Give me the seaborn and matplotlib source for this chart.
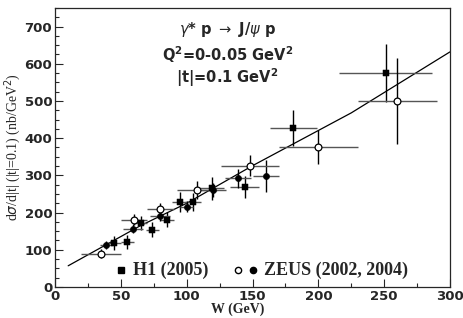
import numpy as np
import pandas as pd
import seaborn as sns
import matplotlib.pyplot as plt
from matplotlib.ticker import MultipleLocator

# H1 (2005), filled squares
h1_w = [45, 55, 65, 74, 85, 95, 105, 119, 144, 181, 251]
h1_sig = [118, 121, 172, 154, 181, 228, 228, 265, 269, 428, 575]
h1_werr = [5, 5, 5, 5, 5, 6, 6, 9.5, 11, 18, 35]
h1_err = [18, 18, 20, 20, 20, 27, 25, 31, 30, 48, 78]

# ZEUS filled circles
zf_w = [39, 59.5, 80, 100, 120, 139, 160]
zf_sig = [113, 156, 192, 216, 261, 292, 297]
zf_werr = [5, 7.5, 7.5, 5, 10, 10, 10]
zf_err = [10, 12, 14, 15, 18, 25, 43]

# ZEUS open circles
zo_w = [35, 60, 80, 108, 148, 200, 260]
zo_sig = [90, 181, 210, 261, 326, 376, 500]
zo_werr = [15, 10, 10, 15, 22, 30, 30]
zo_err = [12, 15, 15, 25, 28, 45, 115]

# fitted curve
fit_w = [10, 65, 100, 150, 225, 300]
fit_sig = [57, 165, 225, 326, 468, 632]

sns.set_style("ticks")
plt.rcParams['font.family'] = ['DejaVu Sans']

fig = plt.figure(figsize=(4.63, 3.18), dpi=100)
ax = fig.add_axes([0.1188, 0.0975, 0.8532, 0.8775])

fit = pd.DataFrame({'W': fit_w, 'sig': fit_sig})
sns.lineplot(data=fit, x='W', y='sig', ax=ax, color='black', lw=0.9)

for w, s, we, se in [(h1_w, h1_sig, h1_werr, h1_err),
                     (zf_w, zf_sig, zf_werr, zf_err),
                     (zo_w, zo_sig, zo_werr, zo_err)]:
    ax.errorbar(w, s, xerr=we, fmt='none', ecolor='#555555', elinewidth=1.0, capsize=0)
    ax.errorbar(w, s, yerr=se, fmt='none', ecolor='black', elinewidth=1.0, capsize=0)

sns.scatterplot(x=h1_w, y=h1_sig, ax=ax, marker='s', s=20, color='black', edgecolor='black', zorder=5)
sns.scatterplot(x=zf_w, y=zf_sig, ax=ax, marker='o', s=20, color='black', edgecolor='black', zorder=5)
sns.scatterplot(x=zo_w, y=zo_sig, ax=ax, marker='o', s=24, color='white', edgecolor='black', linewidth=0.9, zorder=5)

ax.set_xlim(0, 300)
ax.set_ylim(0, 750)
ax.xaxis.set_major_locator(MultipleLocator(50))
ax.xaxis.set_minor_locator(MultipleLocator(25))
ax.yaxis.set_major_locator(MultipleLocator(100))
ax.yaxis.set_minor_locator(MultipleLocator(25))
ax.tick_params(which='both', direction='in', top=False, right=False)
ax.tick_params(which='major', length=6, width=0.8, labelsize=9.5, pad=2)
ax.tick_params(which='minor', length=3, width=0.8)
for lab in ax.get_xticklabels() + ax.get_yticklabels():
    lab.set_fontweight('bold')
for sp in ax.spines.values():
    sp.set_linewidth(0.9)

ax.set_xlabel('W (GeV)', family='Liberation Serif', fontweight='bold', fontsize=10, labelpad=0)
ax.xaxis.set_label_coords(0.463, -0.055)
ax.set_ylabel(r'd$\sigma$/d|t| (|t|=0.1) (nb/GeV$^2$)', family='Liberation Serif', fontsize=10, labelpad=1)

ax.text(131, 691, r'$\gamma$* p $\rightarrow$ J/$\psi$ p', ha='center', va='center', fontsize=10.5, fontweight='bold')
ax.text(131, 624, 'Q$^\\mathbf{2}$=0-0.05 GeV$^\\mathbf{2}$', ha='center', va='center', fontsize=10.5, fontweight='bold')
ax.text(131, 563, '|t|=0.1 GeV$^\\mathbf{2}$', ha='center', va='center', fontsize=10.5, fontweight='bold')

# legend line drawn as text and markers
ax.plot([50], [45], marker='s', ms=5, color='black', ls='none')
ax.text(59, 45, 'H1 (2005)', family='Liberation Serif', fontweight='bold', fontsize=13, va='center')
ax.plot([139], [45], marker='o', ms=4.5, mfc='white', mec='black', ls='none')
ax.plot([150], [45], marker='o', ms=4.5, color='black', ls='none')
ax.text(159, 45, 'ZEUS (2002, 2004)', family='Liberation Serif', fontweight='bold', fontsize=13, va='center')

fig.savefig('out.png', dpi=100)
